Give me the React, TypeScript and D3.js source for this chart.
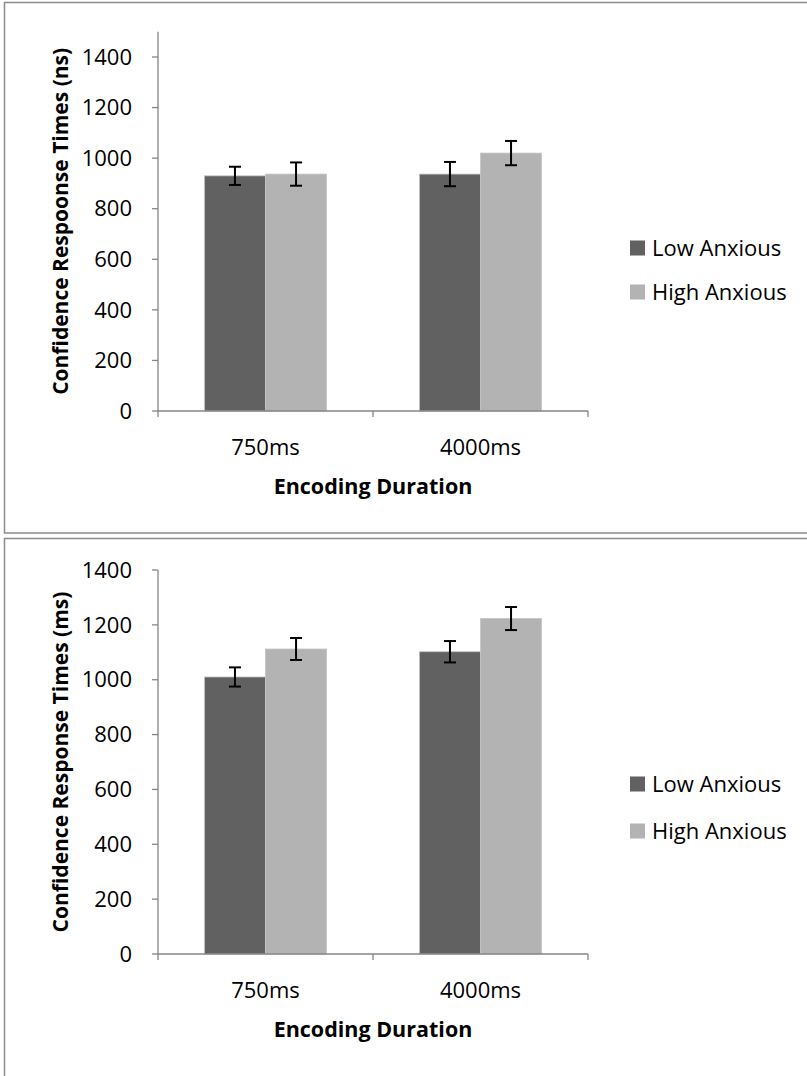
import React from 'react'
import * as d3 from 'd3'

const categories = ['750ms', '4000ms']
const series = ['Low Anxious', 'High Anxious']
const colors = ['#616161', '#b3b3b3']

// top panel (ns)
const topLow = [930, 937]
const topHigh = [937, 1020]
const topLowErr = [36, 48]
const topHighErr = [46, 48]

// bottom panel (ms)
const botLow = [1010, 1102]
const botHigh = [1112, 1223]
const botLowErr = [35, 39]
const botHighErr = [40, 42]

const yTicks = [0, 200, 400, 600, 800, 1000, 1200, 1400]

const FONT = "'Open Sans', sans-serif"

type PanelProps = {
  top: number
  bottom: number | null
  y0: number
  y1400: number
  yMax: number
  low: number[]
  high: number[]
  lowErr: number[]
  highErr: number[]
  yTitle: string
  legendY: number[]
}

const Panel = (p: PanelProps) => {
  const x0 = 158,
    x1 = 588
  const y = d3
    .scaleLinear()
    .domain([0, 1400])
    .range([p.y0, p.y1400])
  const x = d3
    .scaleBand()
    .domain(categories)
    .range([x0, x1])
    .padding(0)
  const xs = d3
    .scaleBand()
    .domain(series)
    .range([0, x.bandwidth()])
    .paddingInner(0)
    .paddingOuter(0.76)

  const vals = [p.low, p.high]
  const errs = [p.lowErr, p.highErr]
  const xTickPos = [x0, ...categories.map(c => (x(c) as number) + x.bandwidth())]

  return (
    <g>
      {/* panel frame */}
      <path
        d={
          p.bottom === null
            ? `M807,${p.top} H4.5 V1076`
            : `M807,${p.top} H4.5 V${p.bottom} H807`
        }
        fill='none'
        stroke='#8c8c8c'
        strokeWidth={1.5}
      />

      {/* bars */}
      {categories.map((c, ci) =>
        series.map((s, si) => {
          const bx = (x(c) as number) + (xs(s) as number)
          const v = vals[si][ci]
          return (
            <rect
              key={c + s}
              x={bx}
              y={y(v)}
              width={xs.bandwidth()}
              height={p.y0 - y(v)}
              fill={colors[si]}
              stroke='#c4c4c4'
              strokeWidth={0.8}
            />
          )
        })
      )}

      {/* error bars */}
      {categories.map((c, ci) =>
        series.map((s, si) => {
          const cx = (x(c) as number) + (xs(s) as number) + xs.bandwidth() / 2
          const v = vals[si][ci],
            e = errs[si][ci]
          return (
            <g key={'e' + c + s} stroke='#000' strokeWidth={2}>
              <line x1={cx} x2={cx} y1={y(v + e)} y2={y(v - e)} />
              <line x1={cx - 6} x2={cx + 6} y1={y(v + e)} y2={y(v + e)} />
              <line x1={cx - 6} x2={cx + 6} y1={y(v - e)} y2={y(v - e)} />
            </g>
          )
        })
      )}

      {/* axes */}
      <g stroke='#868686' strokeWidth={1.3}>
        <line x1={x0} x2={x0} y1={y(p.yMax)} y2={p.y0} />
        {yTicks.map(t => (
          <line key={t} x1={x0 - 6} x2={x0} y1={y(t)} y2={y(t)} />
        ))}
        <line x1={x0} x2={x1} y1={p.y0} y2={p.y0} />
        {xTickPos.map((t, i) => (
          <line key={i} x1={t} x2={t} y1={p.y0} y2={p.y0 + 6} />
        ))}
      </g>
      {yTicks.map(t => (
        <text
          key={t}
          x={132}
          y={y(t)}
          dy='0.35em'
          textAnchor='end'
          fontSize={22}
          fontFamily={FONT}
          fill='#000'>
          {t}
        </text>
      ))}
      {categories.map(c => (
        <text
          key={c}
          x={(x(c) as number) + x.bandwidth() / 2}
          y={p.y0 + 36}
          dy='0.35em'
          textAnchor='middle'
          fontSize={22}
          fontFamily={FONT}>
          {c}
        </text>
      ))}
      <text
        x={(x0 + x1) / 2}
        y={p.y0 + 75}
        dy='0.35em'
        textAnchor='middle'
        fontSize={21.5}
        fontWeight='bold'
        fontFamily={FONT}>
        Encoding Duration
      </text>
      <text
        transform={`translate(61,${(p.y0 + y(p.yMax)) / 2}) rotate(-90)`}
        dy='0.35em'
        textAnchor='middle'
        fontSize={21}
        fontWeight='bold'
        fontFamily={FONT}>
        {p.yTitle}
      </text>

      {/* legend */}
      {series.map((s, i) => (
        <g key={s} transform={`translate(630,${p.legendY[i]})`}>
          <rect x={0} y={-7.5} width={15} height={15} fill={colors[i]} />
          <text x={22} dy='0.35em' fontSize={22} fontFamily={FONT}>
            {s}
          </text>
        </g>
      ))}
    </g>
  )
}

const App = () => {
  return (
    <svg
      width={807}
      height={1076}
      style={{ position: 'absolute', left: 0, top: 0, background: '#fff' }}>
      <rect width={807} height={1076} fill='#fff' />
      <Panel
        top={2.5}
        bottom={533}
        y0={411}
        y1400={57}
        yMax={1500}
        low={topLow}
        high={topHigh}
        lowErr={topLowErr}
        highErr={topHighErr}
        yTitle='Confidence Respoonse Times (ns)'
        legendY={[248, 292]}
      />
      <Panel
        top={538.5}
        bottom={null}
        y0={954}
        y1400={570}
        yMax={1400}
        low={botLow}
        high={botHigh}
        lowErr={botLowErr}
        highErr={botHighErr}
        yTitle='Confidence Response Times (ms)'
        legendY={[784, 831]}
      />
    </svg>
  )
}

export default App
